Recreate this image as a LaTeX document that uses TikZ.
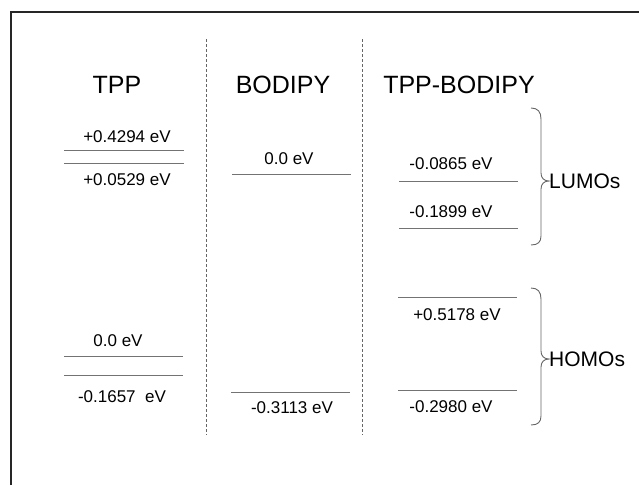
\documentclass[tikz,border=0pt]{standalone}
\usepackage{fontspec}
\setmainfont{Liberation Sans}
\begin{document}
\begin{tikzpicture}[x=1pt,y=1pt,
  frame/.style={line width=1.5pt,draw=black!85},
  sep/.style={draw=black!60,line width=0.7pt,dash pattern=on 3pt off 2pt},
  level/.style={draw=black!55,line width=1pt},
  brace/.style={draw=black!60,line width=0.9pt},
  title/.style={inner sep=0pt,font=\fontsize{25}{28}\selectfont},
  elabel/.style={inner sep=0pt,font=\fontsize{17}{20}\selectfont},
  glabel/.style={inner sep=0pt,anchor=west,font=\fontsize{21}{24}\selectfont}]
\useasboundingbox (0,0) rectangle (639,-485);
% frame
\draw[frame] (11,-485) -- (11,-12) -- (639,-12);
% separators
\coordinate (s1t) at (206,-39); \coordinate (s1b) at (206,-435);
\coordinate (s2t) at (362,-39); \coordinate (s2b) at (362,-435);
\draw[sep] (s1t) -- (s1b);
\draw[sep] (s2t) -- (s2b);
% titles
\node[title] (tpp) at (117,-85) {TPP};
\node[title] (bod) at (283,-85) {BODIPY};
\node[title] (tb) at (459,-85) {TPP-BODIPY};
% TPP levels
\draw[level] (64,-150) -- (184,-150);
\draw[level] (64,-163) -- (184,-163);
\node[elabel] (t1) at (127,-137) {+0.4294 eV};
\node[elabel] (t2) at (127,-180) {+0.0529 eV};
\draw[level] (64,-356) -- (183,-356);
\draw[level] (64,-375) -- (183,-375);
\node[elabel] (t3) at (118,-341) {0.0 eV};
\node[elabel] (t4) at (122,-397) {-0.1657\ \ eV};
% BODIPY levels
\draw[level] (232,-174) -- (351,-174);
\node[elabel] (b1) at (289,-159) {0.0 eV};
\draw[level] (231,-392) -- (350,-392);
\node[elabel] (b2) at (292,-408) {-0.3113 eV};
% TPP-BODIPY levels
\draw[level] (399,-181) -- (518,-181);
\draw[level] (399,-228) -- (518,-228);
\node[elabel] (c1) at (451,-164) {-0.0865 eV};
\node[elabel] (c2) at (451,-212) {-0.1899 eV};
\draw[level] (398,-297) -- (517,-297);
\draw[level] (398,-390) -- (517,-390);
\node[elabel] (c3) at (457,-315) {+0.5178 eV};
\node[elabel] (c4) at (451,-407) {-0.2980 eV};
% braces
\draw[brace] (531,-108) .. controls (538,-108) and (541,-112) .. (541,-119)
  -- (541,-173) .. controls (541,-178) and (544,-181) .. (549,-181)
  .. controls (544,-181) and (541,-184) .. (541,-189)
  -- (541,-236) .. controls (541,-242) and (538,-245) .. (531,-245);
\node[glabel] (lumo) at (549,-181) {LUMOs};
\draw[brace] (531,-288) .. controls (538,-288) and (541,-292) .. (541,-299)
  -- (541,-351) .. controls (541,-356) and (544,-359) .. (549,-359)
  .. controls (544,-359) and (541,-362) .. (541,-367)
  -- (541,-416) .. controls (541,-422) and (538,-425) .. (531,-425);
\node[glabel] (homo) at (549,-359) {HOMOs};
\end{tikzpicture}
\end{document}
